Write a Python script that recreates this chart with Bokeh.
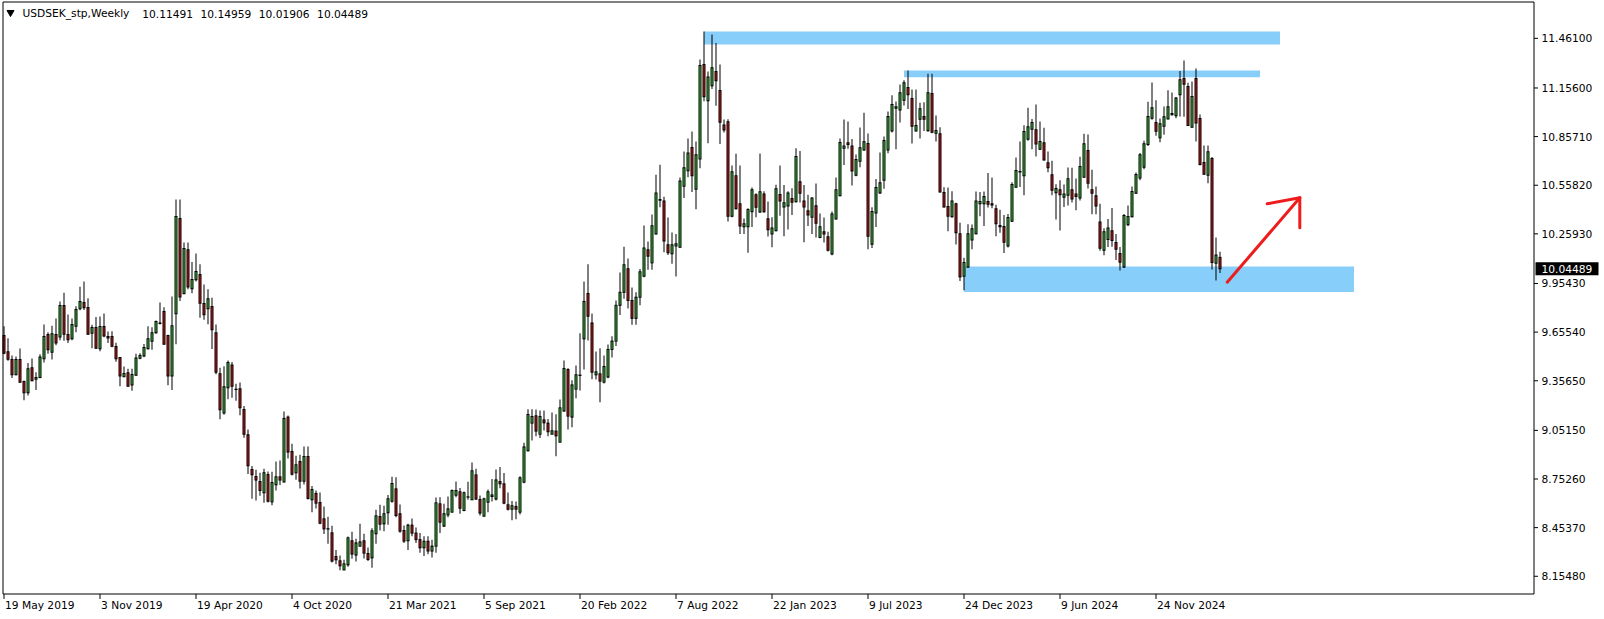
import numpy as np
from bokeh.plotting import figure
from bokeh.models import Range1d, ColumnDataSource
from bokeh.core.properties import value
from bokeh.embed import file_html
from bokeh.resources import INLINE

# ---------------- data (weekly USDSEK candles) ----------------
opens = [
 9.635, 9.534, 9.487, 9.393, 9.487, 9.352, 9.282, 9.436, 9.366, 9.377,
 9.491, 9.641, 9.532, 9.641, 9.626, 9.819, 9.641, 9.614, 9.692, 9.799,
 9.838, 9.807, 9.649, 9.684, 9.553, 9.690, 9.629, 9.629, 9.567, 9.499,
 9.381, 9.405, 9.331, 9.391, 9.495, 9.508, 9.553, 9.600, 9.651, 9.712,
 9.782, 9.635, 9.385, 9.768, 10.354, 9.891, 10.161, 9.922, 9.977, 10.010,
 9.831, 9.799, 9.813, 9.651, 9.399, 9.159, 9.313, 9.454, 9.305, 9.307,
 9.180, 9.024, 8.811, 8.768, 8.737, 8.668, 8.780, 8.612, 8.717, 8.766,
 8.734, 9.133, 8.922, 8.791, 8.860, 8.739, 8.891, 8.625, 8.664, 8.608,
 8.508, 8.447, 8.422, 8.276, 8.250, 8.194, 8.225, 8.373, 8.285, 8.340,
 8.373, 8.295, 8.268, 8.416, 8.522, 8.477, 8.545, 8.616, 8.692, 8.539,
 8.436, 8.373, 8.469, 8.420, 8.380, 8.330, 8.370, 8.310, 8.340, 8.600,
 8.463, 8.532, 8.549, 8.653, 8.674, 8.559, 8.641, 8.625, 8.778, 8.627,
 8.524, 8.610, 8.645, 8.629, 8.737, 8.723, 8.594, 8.567, 8.584, 8.549,
 8.733, 8.926, 9.096, 9.141, 9.028, 9.116, 9.096, 9.028, 9.047, 8.979,
 9.170, 9.426, 9.133, 9.305, 9.391, 9.614, 9.893, 9.712, 9.393, 9.399,
 9.348, 9.379, 9.549, 9.600, 9.820, 9.900, 10.045, 9.850, 9.740, 9.870,
 9.999, 10.161, 10.081, 10.259, 10.470, 10.462, 10.192, 10.137, 10.184, 10.177,
 10.552, 10.647, 10.790, 10.534, 10.720, 11.300, 11.077, 11.169, 11.257, 11.141,
 10.929, 10.948, 10.368, 10.616, 10.444, 10.303, 10.303, 10.395, 10.499, 10.393,
 10.505, 10.352, 10.259, 10.278, 10.501, 10.425, 10.430, 10.477, 10.456, 10.579,
 10.462, 10.401, 10.362, 10.432, 10.237, 10.272, 10.241, 10.135, 10.350, 10.493,
 10.786, 10.819, 10.800, 10.620, 10.706, 10.774, 10.815, 10.196, 10.387, 10.510,
 10.589, 10.774, 10.891, 11.032, 11.020, 11.081, 11.159, 11.091, 10.891, 10.964,
 10.981, 10.893, 11.122, 10.878, 10.874, 10.514, 10.428, 10.364, 10.444, 10.260,
 9.999, 10.055, 10.221, 10.260, 10.444, 10.444, 10.458, 10.444, 10.413, 10.311,
 10.305, 10.184, 10.337, 10.546, 10.643, 10.616, 10.841, 10.903, 10.899, 10.780,
 10.819, 10.696, 10.622, 10.512, 10.530, 10.485, 10.497, 10.530, 10.505, 10.479,
 10.608, 10.772, 10.530, 10.493, 10.333, 10.159, 10.225, 10.278, 10.206, 10.139,
 10.055, 10.315, 10.364, 10.509, 10.602, 10.669, 10.809, 10.970, 10.944, 10.850,
 10.921, 10.966, 10.999, 10.985, 11.114, 11.214, 11.165, 10.915, 11.214, 10.968,
 10.698, 10.620, 10.722, 10.079, 10.11491]
highs = [
 9.692, 9.618, 9.512, 9.506, 9.555, 9.358, 9.465, 9.493, 9.409, 9.520,
 9.702, 9.655, 9.694, 9.739, 9.844, 9.897, 9.764, 9.739, 9.815, 9.934,
 9.967, 9.864, 9.700, 9.749, 9.751, 9.770, 9.659, 9.661, 9.590, 9.502,
 9.444, 9.430, 9.430, 9.522, 9.526, 9.583, 9.692, 9.686, 9.727, 9.838,
 9.809, 9.639, 9.874, 10.471, 10.471, 10.206, 10.206, 10.087, 10.139, 10.073,
 9.948, 9.919, 9.866, 9.702, 9.436, 9.446, 9.481, 9.471, 9.338, 9.346,
 9.202, 9.057, 8.832, 8.809, 8.791, 8.815, 8.799, 8.797, 8.860, 8.866,
 9.168, 9.143, 8.969, 8.895, 8.901, 8.952, 8.952, 8.709, 8.682, 8.670,
 8.584, 8.520, 8.465, 8.317, 8.282, 8.256, 8.399, 8.428, 8.385, 8.477,
 8.416, 8.332, 8.450, 8.563, 8.594, 8.588, 8.655, 8.766, 8.764, 8.596,
 8.467, 8.477, 8.510, 8.455, 8.420, 8.400, 8.400, 8.380, 8.639, 8.641,
 8.600, 8.645, 8.688, 8.737, 8.698, 8.676, 8.735, 8.854, 8.815, 8.651,
 8.637, 8.688, 8.752, 8.811, 8.827, 8.790, 8.670, 8.618, 8.614, 8.770,
 8.975, 9.182, 9.182, 9.180, 9.174, 9.174, 9.122, 9.161, 9.151, 9.241,
 9.481, 9.434, 9.360, 9.450, 9.649, 9.967, 10.073, 9.770, 9.536, 9.557,
 9.512, 9.579, 9.630, 9.850, 10.022, 10.180, 10.108, 9.930, 9.900, 10.044,
 10.311, 10.212, 10.378, 10.622, 10.684, 10.487, 10.360, 10.268, 10.259, 10.606,
 10.766, 10.845, 10.888, 10.827, 11.331, 11.503, 11.257, 11.485, 11.433, 11.300,
 10.962, 10.964, 10.680, 10.751, 10.680, 10.354, 10.417, 10.544, 10.509, 10.753,
 10.522, 10.458, 10.362, 10.561, 10.680, 10.559, 10.522, 10.540, 10.786, 10.768,
 10.560, 10.500, 10.485, 10.569, 10.385, 10.360, 10.272, 10.397, 10.606, 10.845,
 10.962, 10.950, 10.843, 10.747, 10.913, 11.003, 10.876, 10.423, 10.596, 10.759,
 10.858, 11.011, 11.112, 11.073, 11.177, 11.204, 11.263, 11.147, 11.147, 11.065,
 11.069, 11.243, 11.243, 10.987, 10.915, 10.546, 10.544, 10.522, 10.450, 10.327,
 10.112, 10.319, 10.317, 10.520, 10.516, 10.520, 10.634, 10.606, 10.438, 10.407,
 10.376, 10.382, 10.577, 10.729, 10.827, 10.927, 11.034, 10.966, 11.054, 10.950,
 10.911, 10.766, 10.708, 10.565, 10.589, 10.563, 10.667, 10.665, 10.600, 10.733,
 10.874, 10.870, 10.653, 10.550, 10.444, 10.294, 10.350, 10.419, 10.258, 10.178,
 10.382, 10.434, 10.550, 10.636, 10.757, 10.831, 11.071, 11.190, 11.081, 10.968,
 11.042, 11.142, 11.128, 11.100, 11.261, 11.325, 11.188, 11.196, 11.276, 10.993,
 10.802, 10.802, 10.731, 10.237, 10.14959]
lows = [
 9.520, 9.479, 9.374, 9.391, 9.344, 9.237, 9.266, 9.354, 9.299, 9.372,
 9.469, 9.522, 9.487, 9.575, 9.606, 9.602, 9.588, 9.606, 9.655, 9.790,
 9.792, 9.637, 9.557, 9.551, 9.538, 9.624, 9.588, 9.563, 9.473, 9.323,
 9.379, 9.319, 9.295, 9.387, 9.489, 9.501, 9.549, 9.547, 9.645, 9.702,
 9.579, 9.329, 9.299, 9.581, 9.846, 9.889, 9.919, 9.895, 9.967, 9.743,
 9.731, 9.704, 9.551, 9.397, 9.120, 9.147, 9.243, 9.252, 9.233, 9.145,
 9.006, 8.784, 8.631, 8.621, 8.649, 8.606, 8.608, 8.592, 8.682, 8.715,
 8.732, 8.879, 8.774, 8.748, 8.694, 8.719, 8.627, 8.549, 8.571, 8.475,
 8.414, 8.354, 8.239, 8.229, 8.192, 8.192, 8.213, 8.262, 8.246, 8.338,
 8.264, 8.248, 8.207, 8.354, 8.436, 8.432, 8.471, 8.606, 8.518, 8.422,
 8.360, 8.317, 8.400, 8.360, 8.300, 8.280, 8.290, 8.270, 8.300, 8.420,
 8.457, 8.518, 8.547, 8.641, 8.539, 8.555, 8.625, 8.623, 8.625, 8.528,
 8.522, 8.549, 8.614, 8.620, 8.696, 8.598, 8.559, 8.499, 8.506, 8.534,
 8.727, 8.922, 8.989, 9.016, 9.004, 9.051, 9.016, 9.026, 8.893, 8.977,
 9.167, 9.057, 9.071, 9.249, 9.297, 9.426, 9.604, 9.366, 9.364, 9.225,
 9.340, 9.372, 9.500, 9.570, 9.760, 9.860, 9.800, 9.700, 9.700, 9.820,
 9.993, 10.038, 10.038, 10.255, 10.423, 10.147, 10.130, 10.075, 9.997, 10.175,
 10.479, 10.608, 10.516, 10.411, 10.663, 11.075, 10.817, 11.149, 11.046, 10.811,
 10.882, 10.335, 10.362, 10.409, 10.259, 10.259, 10.143, 10.301, 10.362, 10.387,
 10.389, 10.243, 10.177, 10.276, 10.370, 10.245, 10.286, 10.376, 10.452, 10.452,
 10.208, 10.307, 10.258, 10.237, 10.233, 10.206, 10.151, 10.128, 10.348, 10.491,
 10.682, 10.782, 10.557, 10.614, 10.669, 10.770, 10.165, 10.172, 10.301, 10.505,
 10.536, 10.755, 10.882, 10.780, 10.944, 11.048, 11.026, 10.815, 10.889, 10.845,
 10.891, 10.887, 10.878, 10.827, 10.514, 10.421, 10.276, 10.358, 10.194, 9.969,
 9.913, 10.051, 10.165, 10.256, 10.368, 10.307, 10.421, 10.417, 10.245, 10.266,
 10.141, 10.176, 10.333, 10.544, 10.548, 10.497, 10.831, 10.780, 10.735, 10.774,
 10.710, 10.638, 10.497, 10.348, 10.280, 10.425, 10.434, 10.452, 10.405, 10.464,
 10.604, 10.538, 10.380, 10.380, 10.155, 10.128, 10.178, 10.180, 10.098, 10.034,
 10.050, 10.307, 10.360, 10.505, 10.589, 10.657, 10.800, 10.960, 10.862, 10.823,
 10.868, 10.964, 10.987, 10.970, 10.981, 10.979, 10.923, 10.913, 10.827, 10.680,
 10.622, 10.571, 10.040, 9.973, 10.01906]
closes = [
 9.526, 9.489, 9.393, 9.487, 9.348, 9.282, 9.430, 9.356, 9.377, 9.503,
 9.629, 9.547, 9.645, 9.588, 9.819, 9.643, 9.608, 9.702, 9.794, 9.844,
 9.805, 9.643, 9.684, 9.557, 9.690, 9.631, 9.620, 9.569, 9.491, 9.385,
 9.401, 9.323, 9.395, 9.497, 9.512, 9.561, 9.614, 9.651, 9.721, 9.708,
 9.581, 9.385, 9.694, 10.366, 9.872, 10.169, 9.932, 9.979, 10.028, 9.833,
 9.762, 9.860, 9.670, 9.409, 9.178, 9.319, 9.469, 9.323, 9.303, 9.190,
 9.028, 8.834, 8.778, 8.746, 8.682, 8.791, 8.616, 8.731, 8.766, 8.746,
 9.125, 8.918, 8.782, 8.840, 8.739, 8.891, 8.633, 8.688, 8.604, 8.481,
 8.446, 8.445, 8.248, 8.256, 8.219, 8.231, 8.391, 8.291, 8.360, 8.366,
 8.297, 8.258, 8.434, 8.526, 8.475, 8.539, 8.631, 8.725, 8.528, 8.432,
 8.371, 8.469, 8.420, 8.380, 8.330, 8.370, 8.310, 8.340, 8.606, 8.487,
 8.539, 8.569, 8.682, 8.682, 8.573, 8.668, 8.643, 8.803, 8.629, 8.543,
 8.631, 8.674, 8.655, 8.747, 8.723, 8.604, 8.567, 8.588, 8.567, 8.760,
 8.950, 9.149, 9.137, 9.047, 9.137, 9.098, 9.043, 9.049, 9.018, 9.190,
 9.432, 9.139, 9.331, 9.393, 9.389, 9.844, 9.753, 9.409, 9.411, 9.354,
 9.444, 9.549, 9.600, 9.820, 9.900, 10.069, 9.850, 9.740, 9.870, 10.026,
 10.173, 10.122, 10.309, 10.511, 10.466, 10.216, 10.143, 10.192, 10.198, 10.585,
 10.665, 10.757, 10.616, 10.745, 11.294, 11.102, 11.224, 11.280, 11.200, 10.946,
 10.897, 10.368, 10.641, 10.413, 10.307, 10.321, 10.409, 10.530, 10.423, 10.518,
 10.395, 10.284, 10.296, 10.536, 10.462, 10.450, 10.511, 10.454, 10.735, 10.509,
 10.425, 10.376, 10.479, 10.325, 10.303, 10.258, 10.159, 10.382, 10.530, 10.821,
 10.800, 10.809, 10.645, 10.716, 10.788, 10.825, 10.245, 10.397, 10.544, 10.573,
 10.833, 10.981, 11.054, 11.040, 11.126, 11.188, 11.114, 10.921, 10.925, 11.028,
 10.964, 11.126, 10.884, 10.895, 10.516, 10.425, 10.368, 10.462, 10.266, 9.995,
 10.083, 10.260, 10.290, 10.462, 10.458, 10.489, 10.442, 10.436, 10.321, 10.303,
 10.208, 10.360, 10.563, 10.649, 10.639, 10.888, 10.917, 10.944, 10.811, 10.827,
 10.714, 10.665, 10.528, 10.538, 10.499, 10.505, 10.598, 10.473, 10.489, 10.673,
 10.813, 10.571, 10.509, 10.430, 10.171, 10.272, 10.296, 10.219, 10.165, 10.085,
 10.372, 10.366, 10.520, 10.624, 10.745, 10.813, 10.981, 11.034, 10.890, 10.936,
 10.979, 11.040, 10.991, 11.095, 11.206, 11.179, 10.925, 11.104, 10.940, 10.686,
 10.626, 10.764, 10.083, 10.130, 10.04489]

date_labels = ["19 May 2019", "3 Nov 2019", "19 Apr 2020", "4 Oct 2020", "21 Mar 2021",
               "5 Sep 2021", "20 Feb 2022", "7 Aug 2022", "22 Jan 2023", "9 Jul 2023",
               "24 Dec 2023", "9 Jun 2024", "24 Nov 2024"]
bars_per_date_label = 24
price_ticks = [11.461, 11.156, 10.8571, 10.5582, 10.2593, 9.9543, 9.6554,
               9.3565, 9.0515, 8.7526, 8.4537, 8.1548]
symbol_title = "USDSEK_stp,Weekly"

# horizontal zones (rectangles) in bar-index / price terms
zone_left = [175, 225, 240]
zone_right = [319, 314, 337.5]
zone_top = [11.503, 11.263, 10.059]
zone_bottom = [11.423, 11.222, 9.902]

# hand-drawn arrow (bar index / price)
arrow_x0 = [305.8, 323.95, 323.95]
arrow_y0 = [9.962, 10.481, 10.481]
arrow_x1 = [323.95, 315.8, 323.95]
arrow_y1 = [10.481, 10.444, 10.297]

# ---------------- layout constants ----------------
W, H = 1604, 619
PX_PER_BAR = 4.0
PX_PER_PRICE = 162.7
BAR0_PX = 3.5          # screen x of bar 0 centre
REF_PRICE, REF_PY = 11.461, 37.85
FONT = value("DejaVu Sans")
FS = value("8pt")
GREEN = "#32CD32"
RED = "#DC1414"

def bx(px):            # screen x -> bar units
    return (px - BAR0_PX) / PX_PER_BAR

def py(pyv):           # screen y -> price units
    return REF_PRICE - (pyv - REF_PY) / PX_PER_PRICE

n = len(opens)
idx = np.arange(n)
o = np.array(opens); c = np.array(closes); h = np.array(highs); l = np.array(lows)
up = c >= o
body_top = np.maximum(o, c)
body_bot = np.minimum(o, c)
half_px = 0.5 / PX_PER_PRICE
fill_top = body_top - half_px
fill_bot = np.minimum(body_bot + half_px, fill_top)
src = ColumnDataSource(dict(
    x=idx, high=h, low=l,
    otop=body_top + half_px, obot=body_bot - half_px,
    ftop=fill_top, fbot=fill_bot,
    color=np.where(up, GREEN, RED)))

p = figure(width=W, height=H,
           x_range=Range1d(bx(0), bx(W)), y_range=Range1d(py(H), py(0)),
           x_axis_type=None, y_axis_type=None,
           output_backend="svg", toolbar_location=None, min_border=0,
           background_fill_color="white", border_fill_color="white")
p.outline_line_color = None
p.grid.visible = False

# zones behind candles
p.quad(left=zone_left, right=zone_right, top=zone_top, bottom=zone_bottom,
       fill_color="#87CEFA", line_color=None)

# candles: wick (1px), black body box (3px), coloured core (1px)
p.vbar(x="x", top="high", bottom="low", width=1 / PX_PER_BAR, source=src,
       fill_color="black", line_color=None)
p.vbar(x="x", top="otop", bottom="obot", width=3 / PX_PER_BAR, source=src,
       fill_color="black", line_color=None)
p.vbar(x="x", top="ftop", bottom="fbot", width=1 / PX_PER_BAR, source=src,
       fill_color="color", line_color=None)

# arrow
p.segment(x0=arrow_x0, y0=arrow_y0, x1=arrow_x1, y1=arrow_y1,
          line_color="#EE1C1C", line_width=3, line_cap="round")

# chart frame
fl, fr, ft, fb = bx(2.5), bx(1533.5), py(1.5), py(593.5)
p.segment(x0=[fl, fr, fl, fl], y0=[ft, ft, ft, fb], x1=[fr, fr, fl, fr], y1=[ft, fb, fb, fb],
          line_color="black", line_width=1)

# price scale (right)
p.segment(x0=[fr] * len(price_ticks), y0=price_ticks,
          x1=[bx(1537.5)] * len(price_ticks), y1=price_ticks, line_color="black", line_width=1)
p.text(x=[bx(1541)] * len(price_ticks), y=price_ticks, text=["%.5f" % v for v in price_ticks],
       text_font=FONT, text_font_size=FS, text_color="black",
       text_align="left", text_baseline="middle")

# current price tag
p.quad(left=[bx(1535)], right=[bx(1598)], top=[closes[-1] + 6.5 / PX_PER_PRICE],
       bottom=[closes[-1] - 6.5 / PX_PER_PRICE], fill_color="black", line_color=None)
p.text(x=[bx(1541)], y=[closes[-1]], text=["%.5f" % closes[-1]],
       text_font=FONT, text_font_size=FS, text_color="white",
       text_align="left", text_baseline="middle")

# date scale (bottom)
tick_pos = [bars_per_date_label * k for k in range(len(date_labels))]
p.segment(x0=tick_pos, y0=[fb] * len(tick_pos), x1=tick_pos, y1=[py(598.5)] * len(tick_pos),
          line_color="black", line_width=1)
p.text(x=tick_pos, y=[py(605)] * len(tick_pos), text=date_labels, x_offset=1,
       text_font=FONT, text_font_size=FS, text_color="black",
       text_align="left", text_baseline="middle")

# header: symbol, timeframe and last bar OHLC
p.scatter(x=[bx(10)], y=[py(12)], marker="inverted_triangle", size=7,
          fill_color="black", line_color="black")
p.text(x=[bx(22)], y=[py(13)], text=[symbol_title],
       text_font=FONT, text_font_size=FS, text_color="black",
       text_align="left", text_baseline="middle")
last_ohlc = [opens[-1], highs[-1], lows[-1], closes[-1]]
p.text(x=[bx(141.7 + 58.3 * k) for k in range(4)], y=[py(13)] * 4,
       text=["%.5f" % v for v in last_ohlc],
       text_font=FONT, text_font_size=FS, text_color="black",
       text_align="left", text_baseline="middle")

open("out.html", "w").write(file_html(p, INLINE))
